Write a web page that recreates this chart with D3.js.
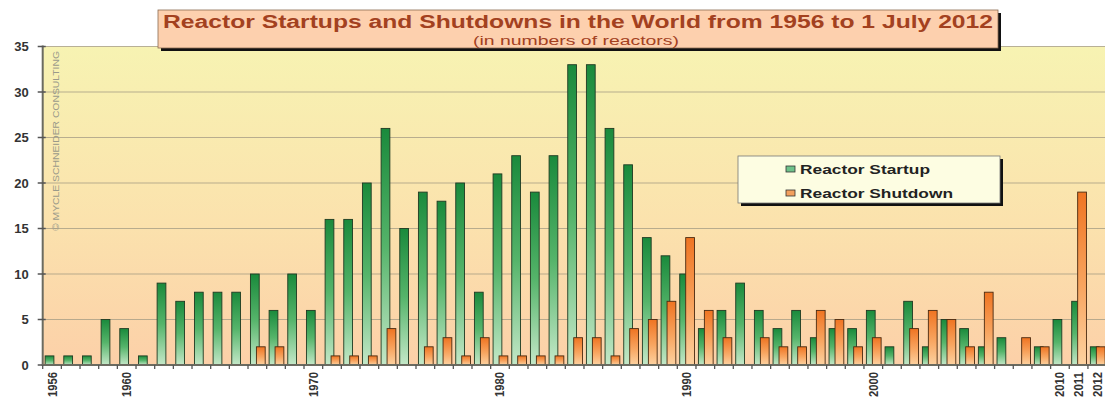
<!DOCTYPE html>
<html>
<head>
<meta charset="utf-8">
<script src="https://cdn.jsdelivr.net/npm/d3@7"></script>
<style>
  body { margin: 0; background: #fff; }
  svg { display: block; font-family: "Liberation Sans", Arial, sans-serif; }
</style>
</head>
<body>
<div class="chart"></div>
<script>
const years = d3.range(1956, 2013)
const startups = [1, 1, 1, 5, 4, 1, 9, 7, 8, 8, 8, 10, 6, 10, 6, 16, 16, 20, 26, 15,
  19, 18, 20, 8, 21, 23, 19, 23, 33, 33, 26, 22, 14, 12, 10, 4, 6, 9, 6, 4,
  6, 3, 4, 4, 6, 2, 7, 2, 5, 4, 2, 3, 0, 2, 5, 7, 2]
const shutdowns = [0, 0, 0, 0, 0, 0, 0, 0, 0, 0, 0, 2, 2, 0, 0, 1, 1, 1, 4, 0,
  2, 3, 1, 3, 1, 1, 1, 1, 3, 3, 1, 4, 5, 7, 14, 6, 3, 0, 3, 2,
  2, 6, 5, 2, 3, 0, 4, 6, 5, 2, 8, 0, 3, 2, 0, 19, 2]
const yTicks = [0, 5, 10, 15, 20, 25, 30, 35]
const labelYears = [1956, 1960, 1970, 1980, 1990, 2000, 2010, 2011, 2012]

const w = 1105
const h = 399
const pLeft = 42.7
const pRight = 1106.6
const pTop = 46.5
const pBottom = 365

const svg = d3.select(".chart").append("svg").attr("width", w).attr("height", h)
const defs = svg.append("defs")

// plot background gradient
const bg = defs.append("linearGradient").attr("id", "bg").attr("x1", 0).attr("y1", 0).attr("x2", 0).attr("y2", 1)
bg.append("stop").attr("offset", "0%").attr("stop-color", "#f7f3b2")
bg.append("stop").attr("offset", "55%").attr("stop-color", "#fbe2ad")
bg.append("stop").attr("offset", "100%").attr("stop-color", "#fcd0a8")

const gGreen = defs.append("linearGradient").attr("id", "gGreen").attr("x1", 0).attr("y1", 0).attr("x2", 0).attr("y2", 1)
gGreen.append("stop").attr("offset", "0%").attr("stop-color", "#1a8a3c")
gGreen.append("stop").attr("offset", "50%").attr("stop-color", "#55b46a")
gGreen.append("stop").attr("offset", "100%").attr("stop-color", "#c4e8c8")

const gOrange = defs.append("linearGradient").attr("id", "gOrange").attr("x1", 0).attr("y1", 0).attr("x2", 0).attr("y2", 1)
gOrange.append("stop").attr("offset", "0%").attr("stop-color", "#ef7422")
gOrange.append("stop").attr("offset", "55%").attr("stop-color", "#f8a560")
gOrange.append("stop").attr("offset", "100%").attr("stop-color", "#fdd2a0")

const x = d3.scaleBand().domain(years).range([pLeft, pRight])
const y = d3.scaleLinear().domain([0, 35]).range([pBottom, pTop])
const bw = x.bandwidth()

svg.append("rect")
  .attr("x", pLeft).attr("y", pTop)
  .attr("width", pRight - pLeft).attr("height", pBottom - pTop)
  .attr("fill", "url(#bg)")

// grid
svg.append("g")
  .selectAll("line")
  .data(yTicks.slice(1))
  .enter()
  .append("line")
  .attr("x1", pLeft).attr("x2", pRight)
  .attr("y1", (d) => y(d)).attr("y2", (d) => y(d))
  .attr("stroke", "#a89f86")
  .attr("stroke-width", 1.2)
  .attr("opacity", 0.8)

// watermark
svg.append("text")
  .attr("transform", "translate(59,231) rotate(-90)")
  .attr("font-size", 8.5)
  .attr("fill", "#9a9a8a")
  .attr("textLength", 180)
  .attr("lengthAdjust", "spacingAndGlyphs")
  .text("© MYCLE SCHNEIDER CONSULTING")

const bars = years.map((yr, i) => ({ yr, up: startups[i], down: shutdowns[i] }))

svg.append("g")
  .selectAll("rect")
  .data(bars.filter((d) => d.up > 0))
  .enter()
  .append("rect")
  .attr("x", (d) => x(d.yr) + bw * 0.13)
  .attr("y", (d) => y(d.up))
  .attr("width", bw * 0.47)
  .attr("height", (d) => y(0) - y(d.up))
  .attr("fill", "url(#gGreen)")
  .attr("stroke", "#1f3a22")
  .attr("stroke-width", 0.9)

svg.append("g")
  .selectAll("rect")
  .data(bars.filter((d) => d.down > 0))
  .enter()
  .append("rect")
  .attr("x", (d) => x(d.yr) + bw * 0.45)
  .attr("y", (d) => y(d.down))
  .attr("width", bw * 0.47)
  .attr("height", (d) => y(0) - y(d.down))
  .attr("fill", "url(#gOrange)")
  .attr("stroke", "#4a2a10")
  .attr("stroke-width", 0.9)

// y axis
const yAxis = svg.append("g").attr("transform", `translate(${pLeft},0)`)
yAxis.append("line")
  .attr("x1", 0).attr("x2", 0).attr("y1", pTop - 1).attr("y2", pBottom + 1)
  .attr("stroke", "#6b6b60").attr("stroke-width", 2)
yAxis.selectAll(".tick")
  .data(yTicks)
  .enter()
  .append("line")
  .attr("x1", -5).attr("x2", 3)
  .attr("y1", (d) => y(d)).attr("y2", (d) => y(d))
  .attr("stroke", "#555").attr("stroke-width", 1.5)
yAxis.selectAll("text")
  .data(yTicks)
  .enter()
  .append("text")
  .attr("x", -14)
  .attr("y", (d) => y(d) + 4.5)
  .attr("text-anchor", "end")
  .attr("font-size", 13)
  .attr("font-weight", "bold")
  .attr("fill", "#333")
  .text((d) => d)

// x axis
svg.append("line")
  .attr("x1", pLeft - 1).attr("x2", pRight)
  .attr("y1", pBottom).attr("y2", pBottom)
  .attr("stroke", "#6b6b60").attr("stroke-width", 2)
svg.append("g")
  .selectAll("line")
  .data(years)
  .enter()
  .append("line")
  .attr("x1", (d) => x(d)).attr("x2", (d) => x(d))
  .attr("y1", pBottom).attr("y2", pBottom + 4)
  .attr("stroke", "#555").attr("stroke-width", 1.3)
svg.append("g")
  .selectAll("text")
  .data(labelYears)
  .enter()
  .append("text")
  .attr("transform", (d) => `translate(${x(d) + bw / 2 + 4.5},${pBottom + 7}) rotate(-90)`)
  .attr("text-anchor", "end")
  .attr("font-size", 12)
  .attr("font-weight", "bold")
  .attr("fill", "#333")
  .attr("textLength", 25)
  .attr("lengthAdjust", "spacingAndGlyphs")
  .text((d) => d)

// title box
svg.append("rect").attr("x", 161).attr("y", 13).attr("width", 840).attr("height", 38).attr("fill", "#111")
svg.append("rect").attr("x", 158).attr("y", 10).attr("width", 840).attr("height", 38)
  .attr("fill", "#fdd0ae").attr("stroke", "#8a6a50").attr("stroke-width", 0.8)
svg.append("text")
  .attr("x", 578).attr("y", 28)
  .attr("text-anchor", "middle")
  .attr("font-size", 18)
  .attr("font-weight", "bold")
  .attr("fill", "#a3411f")
  .attr("textLength", 830)
  .attr("lengthAdjust", "spacingAndGlyphs")
  .text("Reactor Startups and Shutdowns in the World from 1956 to 1 July 2012")
svg.append("text")
  .attr("x", 576).attr("y", 45)
  .attr("text-anchor", "middle")
  .attr("font-size", 12.5)
  .attr("fill", "#a3411f")
  .attr("textLength", 206)
  .attr("lengthAdjust", "spacingAndGlyphs")
  .text("(in numbers of reactors)")

// legend
const legend = svg.append("g").attr("id", "legend")
legend.append("rect").attr("x", 741).attr("y", 159).attr("width", 262).attr("height", 47).attr("fill", "#111")
legend.append("rect").attr("x", 738).attr("y", 156).attr("width", 262).attr("height", 47)
  .attr("fill", "#fdfde2").attr("stroke", "#777").attr("stroke-width", 0.8)
const legendItems = [
  { name: "Reactor Startup", fill: "#6fc28a", len: 130 },
  { name: "Reactor Shutdown", fill: "#f3a05e", len: 153 },
]
legend.selectAll(".legend-item")
  .data(legendItems)
  .enter()
  .append("rect")
  .attr("class", "legend-item")
  .attr("x", 786)
  .attr("y", (d, i) => 166 + i * 24)
  .attr("width", 9).attr("height", 6)
  .attr("fill", (d) => d.fill)
  .attr("stroke", "#333").attr("stroke-width", 0.8)
legend.selectAll(".legend-text")
  .data(legendItems)
  .enter()
  .append("text")
  .attr("class", "legend-text")
  .attr("x", 800)
  .attr("y", (d, i) => 174 + i * 24)
  .attr("font-size", 13)
  .attr("font-weight", "bold")
  .attr("fill", "#222")
  .attr("textLength", (d) => d.len)
  .attr("lengthAdjust", "spacingAndGlyphs")
  .text((d) => d.name)
</script>
</body>
</html>
